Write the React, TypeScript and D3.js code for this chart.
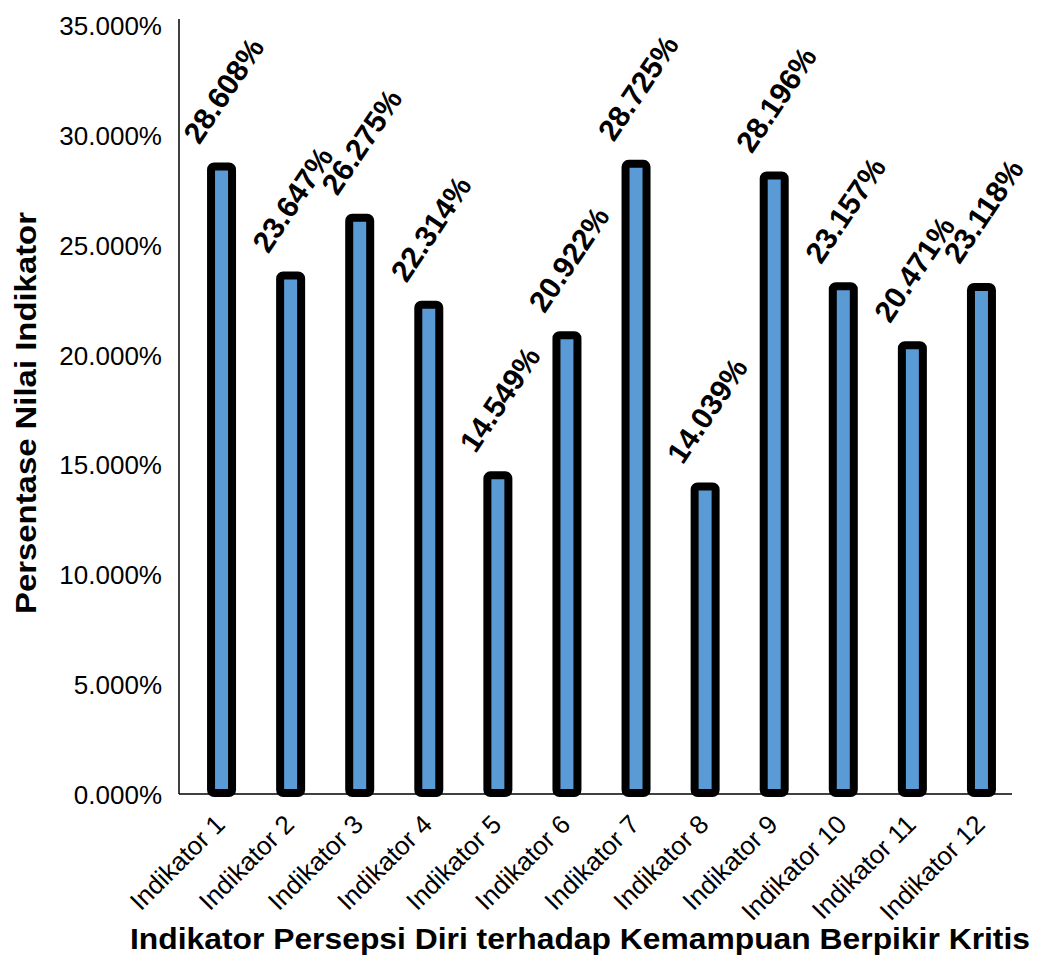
import React, { useEffect, useRef } from 'react';
import * as d3 from 'd3';

// data
const categories = [
  'Indikator 1',
  'Indikator 2',
  'Indikator 3',
  'Indikator 4',
  'Indikator 5',
  'Indikator 6',
  'Indikator 7',
  'Indikator 8',
  'Indikator 9',
  'Indikator 10',
  'Indikator 11',
  'Indikator 12',
];
const values = [28.608, 23.647, 26.275, 22.314, 14.549, 20.922, 28.725, 14.039, 28.196, 23.157, 20.471, 23.118];
const yTicks = [0, 5, 10, 15, 20, 25, 30, 35];

const xTitle = 'Indikator Persepsi Diri terhadap Kemampuan Berpikir Kritis';
const yTitle = 'Persentase Nilai Indikator';

export default function App() {
  const ref = useRef<SVGSVGElement>(null);

  useEffect(() => {
    const width = 1037;
    const height = 960;
    const svg = d3.select(ref.current);
    svg.selectAll('*').remove();
    svg.attr('width', width).attr('height', height);

    const font = "'Liberation Sans', Arial, sans-serif";

    const xScale = d3.scaleBand<string>().domain(categories).range([187, 1016]).padding(0);
    const yScale = d3.scaleLinear().domain([0, 35]).range([795, 26]);
    const center = (c: string) => (xScale(c) as number) + xScale.bandwidth() / 2;

    // y tick labels
    svg
      .append('g')
      .selectAll('text')
      .data(yTicks)
      .enter()
      .append('text')
      .attr('x', 162)
      .attr('y', (d) => yScale(d))
      .attr('text-anchor', 'end')
      .attr('dominant-baseline', 'central')
      .attr('font-family', font)
      .attr('font-size', 26)
      .attr('fill', '#000')
      .text((d) => d.toFixed(3) + '%');

    // bars
    const barW = 21;
    svg
      .append('g')
      .selectAll('rect')
      .data(values)
      .enter()
      .append('rect')
      .attr('x', (d, i) => center(categories[i]) - barW / 2)
      .attr('y', (d) => yScale(d))
      .attr('width', barW)
      .attr('height', (d) => yScale(0) - yScale(d) - 2)
      .attr('rx', 3)
      .attr('fill', '#5B9BD5')
      .attr('stroke', '#000')
      .attr('stroke-width', 8);

    // axis lines
    svg
      .append('line')
      .attr('x1', 179)
      .attr('x2', 179)
      .attr('y1', 19)
      .attr('y2', yScale(0) - 1)
      .attr('stroke', '#000')
      .attr('stroke-width', 1.5);
    svg
      .append('line')
      .attr('x1', 179)
      .attr('x2', 1012)
      .attr('y1', yScale(0) - 1)
      .attr('y2', yScale(0) - 1)
      .attr('stroke', '#000')
      .attr('stroke-width', 1.5);

    // value labels
    svg
      .append('g')
      .selectAll('text')
      .data(values)
      .enter()
      .append('text')
      .attr('transform', (d, i) => {
        return 'translate(' + (center(categories[i]) + 2) + ',' + (yScale(d) - 76) + ') rotate(-56)';
      })
      .attr('text-anchor', 'middle')
      .attr('dominant-baseline', 'central')
      .attr('font-family', font)
      .attr('font-weight', 'bold')
      .attr('font-size', 30)
      .attr('fill', '#000')
      .text((d) => d.toFixed(3) + '%');

    // x tick labels
    svg
      .append('g')
      .selectAll('text')
      .data(categories)
      .enter()
      .append('text')
      .attr('transform', (d) => 'translate(' + (center(d) + 5) + ',' + 826 + ') rotate(-45)')
      .attr('text-anchor', 'end')
      .attr('font-family', font)
      .attr('font-size', 26)
      .attr('fill', '#000')
      .text((d) => d);

    // axis titles
    svg
      .append('text')
      .attr('x', 580)
      .attr('y', 949)
      .attr('text-anchor', 'middle')
      .attr('font-family', font)
      .attr('font-weight', 'bold')
      .attr('font-size', 30)
      .attr('textLength', 900)
      .attr('lengthAdjust', 'spacingAndGlyphs')
      .text(xTitle);

    svg
      .append('text')
      .attr('transform', 'translate(36,413) rotate(-90)')
      .attr('text-anchor', 'middle')
      .attr('font-family', font)
      .attr('font-weight', 'bold')
      .attr('font-size', 30)
      .attr('textLength', 402)
      .attr('lengthAdjust', 'spacingAndGlyphs')
      .text(yTitle);
  }, []);

  return <svg ref={ref} style={{ display: 'block', position: 'absolute', left: 0, top: 0 }} />;
}
